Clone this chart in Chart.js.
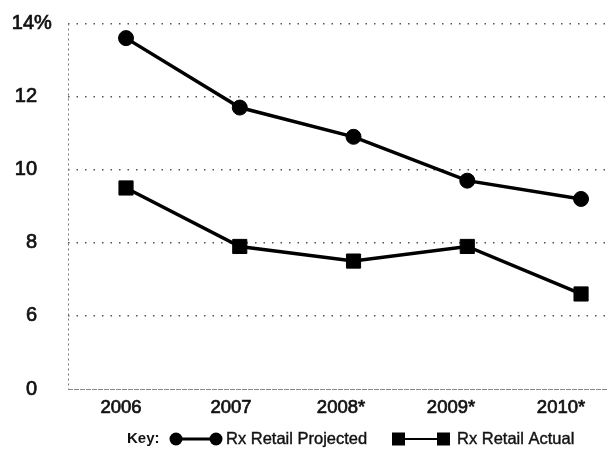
<!DOCTYPE html>
<html><head><meta charset="utf-8">
<script src="https://cdn.jsdelivr.net/npm/chart.js@4.4.0/dist/chart.umd.min.js"></script>
<style>html,body{margin:0;padding:0;background:#fff;overflow:hidden}canvas{display:block}</style>
</head><body><canvas id="c" width="610" height="455" style="width:610px;height:455px"></canvas>
<script>
const categories = ['2006', '2007', '2008*', '2009*', '2010*'];
const projected = [13.6, 11.7, 10.9, 9.7, 9.2];
const actual = [9.5, 7.9, 7.5, 7.9, 6.6];
// broken axis: the bottom tick (value 4 on the scale) is labelled "0"
const yTickValues = [4, 6, 8, 10, 12, 14];
const yTickLabels = ['0', '6', '8', '10', '12', '14%'];
const seriesNames = ['Rx Retail Projected', 'Rx Retail Actual'];
const keyLabel = 'Key:';

const FONT = '"Liberation Sans", Arial, Helvetica, sans-serif';

const toPoints = arr => arr.map((v, i) => ({x: i, y: v}));

function boldText(ctx, txt, x, y, w) {
  ctx.lineWidth = w;
  ctx.strokeText(txt, x, y);
  ctx.fillText(txt, x, y);
}
const noPad = s => { s.paddingLeft = 0; s.paddingRight = 0; s.paddingTop = 0; s.paddingBottom = 0; };

const frame = {
  id: 'frame',
  beforeDatasetsDraw(chart) {
    const {ctx, chartArea: a} = chart;
    ctx.save();
    ctx.strokeStyle = '#777';
    ctx.lineWidth = 1;
    ctx.setLineDash([2, 3]);
    ctx.beginPath();
    ctx.moveTo(a.left + 0.5, a.top);
    ctx.lineTo(a.left + 0.5, a.bottom);
    ctx.stroke();
    ctx.setLineDash([5, 1]);
    ctx.strokeStyle = '#888';
    ctx.beginPath();
    ctx.moveTo(a.left, a.bottom + 0.5);
    ctx.lineTo(a.right, a.bottom + 0.5);
    ctx.stroke();
    ctx.restore();
  },
  afterDraw(chart) {
    const {ctx} = chart;
    const ys = chart.scales.y;
    ctx.save();
    ctx.fillStyle = '#111';
    ctx.strokeStyle = '#111';
    ctx.font = '20px ' + FONT;
    ctx.textBaseline = 'middle';
    yTickValues.forEach((v, i) => {
      const py = ys.getPixelForValue(v);
      let lab = yTickLabels[i];
      let suffix = '';
      if (lab.endsWith('%')) { suffix = '%'; lab = lab.slice(0, -1); }
      const xr = suffix ? 34 : 37;
      ctx.textAlign = 'right';
      boldText(ctx, lab, xr, py, 0.7);
      if (suffix) { ctx.textAlign = 'left'; boldText(ctx, suffix, xr, py, 0.7); }
    });

    // legend
    const ly = 439;
    ctx.textAlign = 'left';
    ctx.font = 'bold 15px ' + FONT;
    ctx.fillText(keyLabel, 127, ly);
    ctx.fillStyle = '#000';
    ctx.strokeStyle = '#000';
    ctx.lineWidth = 3;
    ctx.beginPath(); ctx.moveTo(176, ly); ctx.lineTo(216, ly); ctx.stroke();
    [176, 216].forEach(cx => { ctx.beginPath(); ctx.arc(cx, ly, 6.5, 0, Math.PI * 2); ctx.fill(); });
    ctx.font = '16.5px ' + FONT;
    ctx.fillStyle = '#111';
    ctx.strokeStyle = '#111';
    boldText(ctx, seriesNames[0], 226, ly, 0.4);
    ctx.fillStyle = '#000';
    ctx.strokeStyle = '#000';
    ctx.lineWidth = 2;
    ctx.beginPath(); ctx.moveTo(398, ly); ctx.lineTo(444, ly); ctx.stroke();
    [398.5, 443.5].forEach(cx => ctx.fillRect(cx - 6.5, ly - 6.5, 13, 13));
    ctx.fillStyle = '#111';
    ctx.strokeStyle = '#111';
    boldText(ctx, seriesNames[1], 457, ly, 0.4);
    ctx.restore();
  }
};

new Chart(document.getElementById('c'), {
  type: 'line',
  data: {
    datasets: [
      {
        label: seriesNames[0],
        data: toPoints(projected),
        borderColor: '#000', backgroundColor: '#000',
        borderWidth: 3.5, pointStyle: 'circle', pointRadius: 7.5, pointBorderWidth: 1,
        tension: 0, xAxisID: 'x', yAxisID: 'y', clip: false
      },
      {
        label: seriesNames[1],
        data: toPoints(actual),
        borderColor: '#000', backgroundColor: '#000',
        borderWidth: 3.5, pointStyle: 'rect', pointRadius: 10, pointBorderWidth: 1,
        tension: 0, xAxisID: 'x', yAxisID: 'y', clip: false
      }
    ]
  },
  options: {
    responsive: false,
    maintainAspectRatio: false,
    animation: false,
    devicePixelRatio: 1,
    layout: {autoPadding: false, padding: {left: 68, right: 2, top: 23.5, bottom: 36}},
    plugins: {legend: {display: false}, tooltip: {enabled: false}},
    scales: {
      x: {
        type: 'linear', display: false, min: -0.51, max: 4.237,
        afterFit: noPad
      },
      xl: {
        type: 'linear', position: 'bottom', min: -0.482, max: 4.427,
        grid: {display: false, drawTicks: false},
        border: {display: false},
        afterBuildTicks: s => { s.ticks = categories.map((c, i) => ({value: i})); },
        afterFit: s => { s.height = 30; noPad(s); },
        ticks: {
          padding: 8, color: '#111', maxRotation: 0, autoSkip: false,
          textStrokeColor: '#111', textStrokeWidth: 0.7,
          font: {family: FONT, size: 18.5},
          callback: v => categories[v]
        }
      },
      y: {
        type: 'linear', min: 4, max: 14,
        afterBuildTicks: s => { s.ticks = yTickValues.map(v => ({value: v})); },
        afterFit: s => { s.width = 0; noPad(s); },
        ticks: {display: false},
        grid: {
          drawTicks: false, lineWidth: 1.5,
          color: c => (c.tick && c.tick.value === yTickValues[0]) ? 'rgba(0,0,0,0)' : '#555'
        },
        border: {display: false, dash: [1.5, 7]}
      }
    }
  },
  plugins: [frame]
});
</script>
</body></html>
